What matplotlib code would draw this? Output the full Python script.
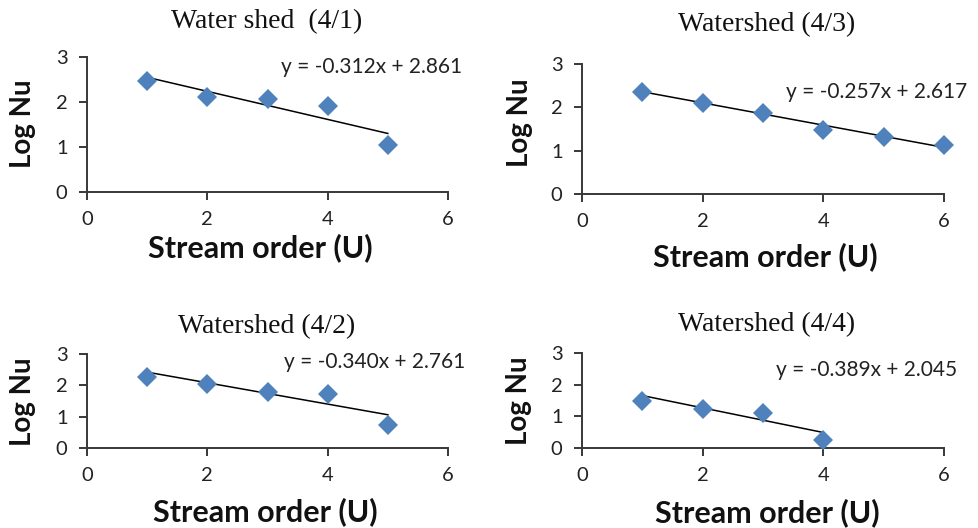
import matplotlib
matplotlib.use("Agg")
import matplotlib.pyplot as plt

# ---------------- data ----------------
titles = ["Water shed  (4/1)", "Watershed (4/3)", "Watershed (4/2)", "Watershed (4/4)"]

orders_41 = [1, 2, 3, 4, 5]
lognu_41 = [2.47, 2.12, 2.07, 1.91, 1.04]

orders_43 = [1, 2, 3, 4, 5, 6]
lognu_43 = [2.36, 2.09, 1.86, 1.48, 1.31, 1.13]

orders_42 = [1, 2, 3, 4, 5]
lognu_42 = [2.26, 2.03, 1.78, 1.71, 0.75]

orders_44 = [1, 2, 3, 4]
lognu_44 = [1.50, 1.24, 1.12, 0.26]

slopes = [-0.312, -0.257, -0.340, -0.389]
intercepts = [2.861, 2.617, 2.761, 2.045]

x_ticks = [0, 2, 4, 6]
y_ticks = [0, 1, 2, 3]

x_label = "Stream order (U)"
y_label = "Log Nu"

# ---------------- layout ----------------
W, H = 979, 528
fig = plt.figure(figsize=(W / 100, H / 100), dpi=100)


def fx(px):
    return px / W


def fy(py):
    return 1 - py / H


panels = [
    dict(box=(87, 448, 57, 192), title=(267, 22), xl=(260, 248), yl=(23, 124), eq=(1.04, 0.926)),
    dict(box=(582, 944, 64, 194), title=(767, 25), xl=(765, 257), yl=(520, 123), eq=(1.063, 0.785)),
    dict(box=(87, 448, 354, 448), title=(267, 327), xl=(265, 512), yl=(23, 402), eq=(1.047, 0.915)),
    dict(box=(582, 944, 353, 448), title=(767, 325), xl=(767, 513), yl=(519, 401), eq=(1.036, 0.818)),
]

series = [(orders_41, lognu_41), (orders_43, lognu_43), (orders_42, lognu_42), (orders_44, lognu_44)]

marker_color = "#4F81BD"
axis_color = "#383838"
sans = ["Lato", "DejaVu Sans"]
serif = ["Liberation Serif", "DejaVu Serif"]

for i, p in enumerate(panels):
    l, r, t, b = p["box"]
    ax = fig.add_axes([fx(l), fy(b), (r - l) / W, (b - t) / H])
    xs, ys = series[i]
    m, c = slopes[i], intercepts[i]
    xl = [min(xs), max(xs)]
    ax.plot(xl, [m * v + c for v in xl], color="black", lw=1.1, zorder=2)
    ax.plot(xs, ys, linestyle="none", marker="D", markersize=10,
            color=marker_color, markeredgewidth=0, zorder=3, clip_on=False)
    ax.set_xlim(0, 6)
    ax.set_ylim(0, 3)
    ax.set_xticks(x_ticks)
    ax.set_yticks(y_ticks)
    for s in ("top", "right"):
        ax.spines[s].set_visible(False)
    for s in ("left", "bottom"):
        ax.spines[s].set_color(axis_color)
        ax.spines[s].set_linewidth(1.4)
    ax.tick_params(axis="both", direction="out", length=6, width=1.4, color=axis_color,
                   labelsize=14.5, labelcolor="#222222")
    ax.tick_params(axis="x", pad=8)
    ax.tick_params(axis="y", pad=8)
    for lab in ax.get_xticklabels() + ax.get_yticklabels():
        lab.set_family(sans)
    ax.patch.set_alpha(0)
    ax.text(p["eq"][0], p["eq"][1], f"y = {m:.3f}x + {c:.3f}", transform=ax.transAxes,
            ha="right", va="center", fontsize=15, family=sans, color="#222222")
    fig.text(fx(p["title"][0]), fy(p["title"][1]), titles[i], ha="center", va="center",
             fontsize=20, family=serif, color="#111111")
    fig.text(fx(p["xl"][0]), fy(p["xl"][1]), x_label, ha="center", va="center",
             fontsize=22, family=sans, fontweight="bold", color="#111111")
    fig.text(fx(p["yl"][0]), fy(p["yl"][1]), y_label, ha="center", va="center",
             rotation=90, fontsize=20, family=sans, fontweight="bold", color="#111111")

fig.savefig("out.png", dpi=100)
